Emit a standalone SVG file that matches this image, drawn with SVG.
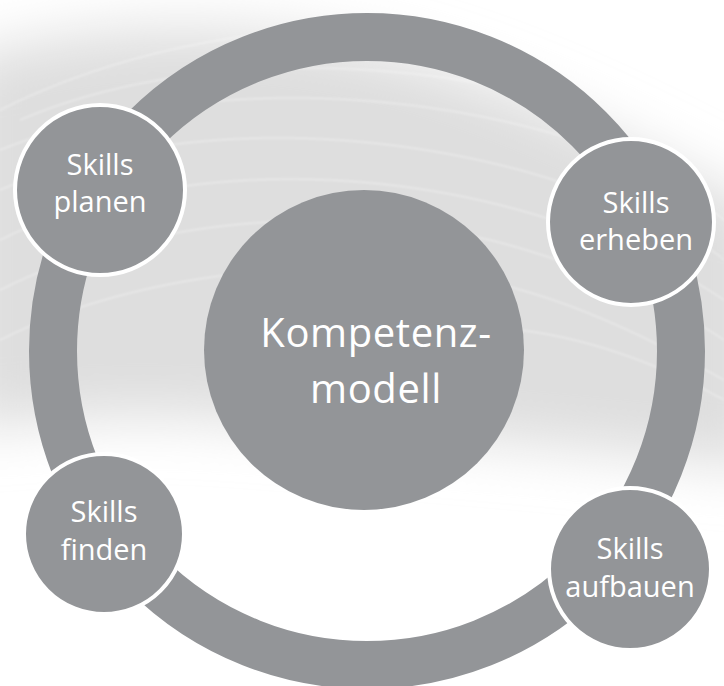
<svg xmlns="http://www.w3.org/2000/svg" width="724" height="686" viewBox="0 0 724 686">
  <defs>
    <filter id="blur" x="-20%" y="-20%" width="140%" height="140%">
      <feGaussianBlur stdDeviation="28"/>
    </filter>
    <filter id="blurS" x="-10%" y="-10%" width="120%" height="120%">
      <feGaussianBlur stdDeviation="1.2"/>
    </filter>
  </defs>
  <style>
    .node { fill: #939598; stroke: #ffffff; stroke-width: 4; }
    .ring { fill: none; stroke: #939598; stroke-width: 48; }
    .lbl { font-family: "Open Sans", "Noto Sans", "DejaVu Sans", sans-serif; fill: #ffffff; text-anchor: middle; }
    .small { font-size: 29px; }
    .big { font-size: 40px; letter-spacing: 0.6px; }
    .wave { fill: none; stroke: #ffffff; stroke-width: 1; opacity: 0.55; }
  </style>

  <rect x="0" y="0" width="724" height="686" fill="#ffffff"/>

  <!-- background texture -->
  <g id="background">
    <path d="M-40,60 C120,10 320,20 480,80 C590,120 680,170 764,210 L764,470 C620,450 420,435 220,420 C120,414 40,420 -40,430 Z" fill="#dedede" filter="url(#blur)"/>
    <g filter="url(#blurS)">
      <path class="wave" d="M0,150 C150,90 350,80 540,130 C620,150 690,190 724,220"/>
      <path class="wave" d="M0,190 C140,130 330,120 520,170 C610,195 690,230 724,260"/>
      <path class="wave" d="M0,240 C130,175 320,160 500,205 C600,230 680,270 724,300"/>
      <path class="wave" d="M0,290 C130,225 310,200 490,240 C590,265 680,310 724,340"/>
      <path class="wave" d="M0,340 C120,280 300,250 480,280 C580,300 670,350 724,380"/>
      <path class="wave" d="M20,120 C160,60 360,50 560,100"/>
      <path class="wave" d="M0,110 C80,70 180,40 300,30"/>
      <path class="wave" d="M520,330 C600,340 670,370 724,400"/>
    </g>
  </g>

  <g id="connectors">
    <circle class="ring" cx="367" cy="351" r="314"/>
  </g>

  <g id="center">
    <circle cx="364" cy="350" r="160" fill="#939598"/>
    <text class="lbl big" x="376" y="347">Kompetenz-</text>
    <text class="lbl big" x="376" y="403">modell</text>
  </g>

  <g id="planen">
    <circle class="node" cx="100" cy="190" r="85"/>
    <text class="lbl small"><tspan x="100" y="175">Skills</tspan><tspan x="100" y="212">planen</tspan></text>
  </g>

  <g id="erheben">
    <circle class="node" cx="631" cy="222" r="83"/>
    <text class="lbl small"><tspan x="636" y="213">Skills</tspan><tspan x="636" y="250">erheben</tspan></text>
  </g>

  <g id="finden">
    <circle class="node" cx="104" cy="534" r="80"/>
    <text class="lbl small"><tspan x="104" y="522">Skills</tspan><tspan x="104" y="560">finden</tspan></text>
  </g>

  <g id="aufbauen">
    <circle class="node" cx="630" cy="569" r="81"/>
    <text class="lbl small"><tspan x="630" y="559">Skills</tspan><tspan x="630" y="597">aufbauen</tspan></text>
  </g>
</svg>
